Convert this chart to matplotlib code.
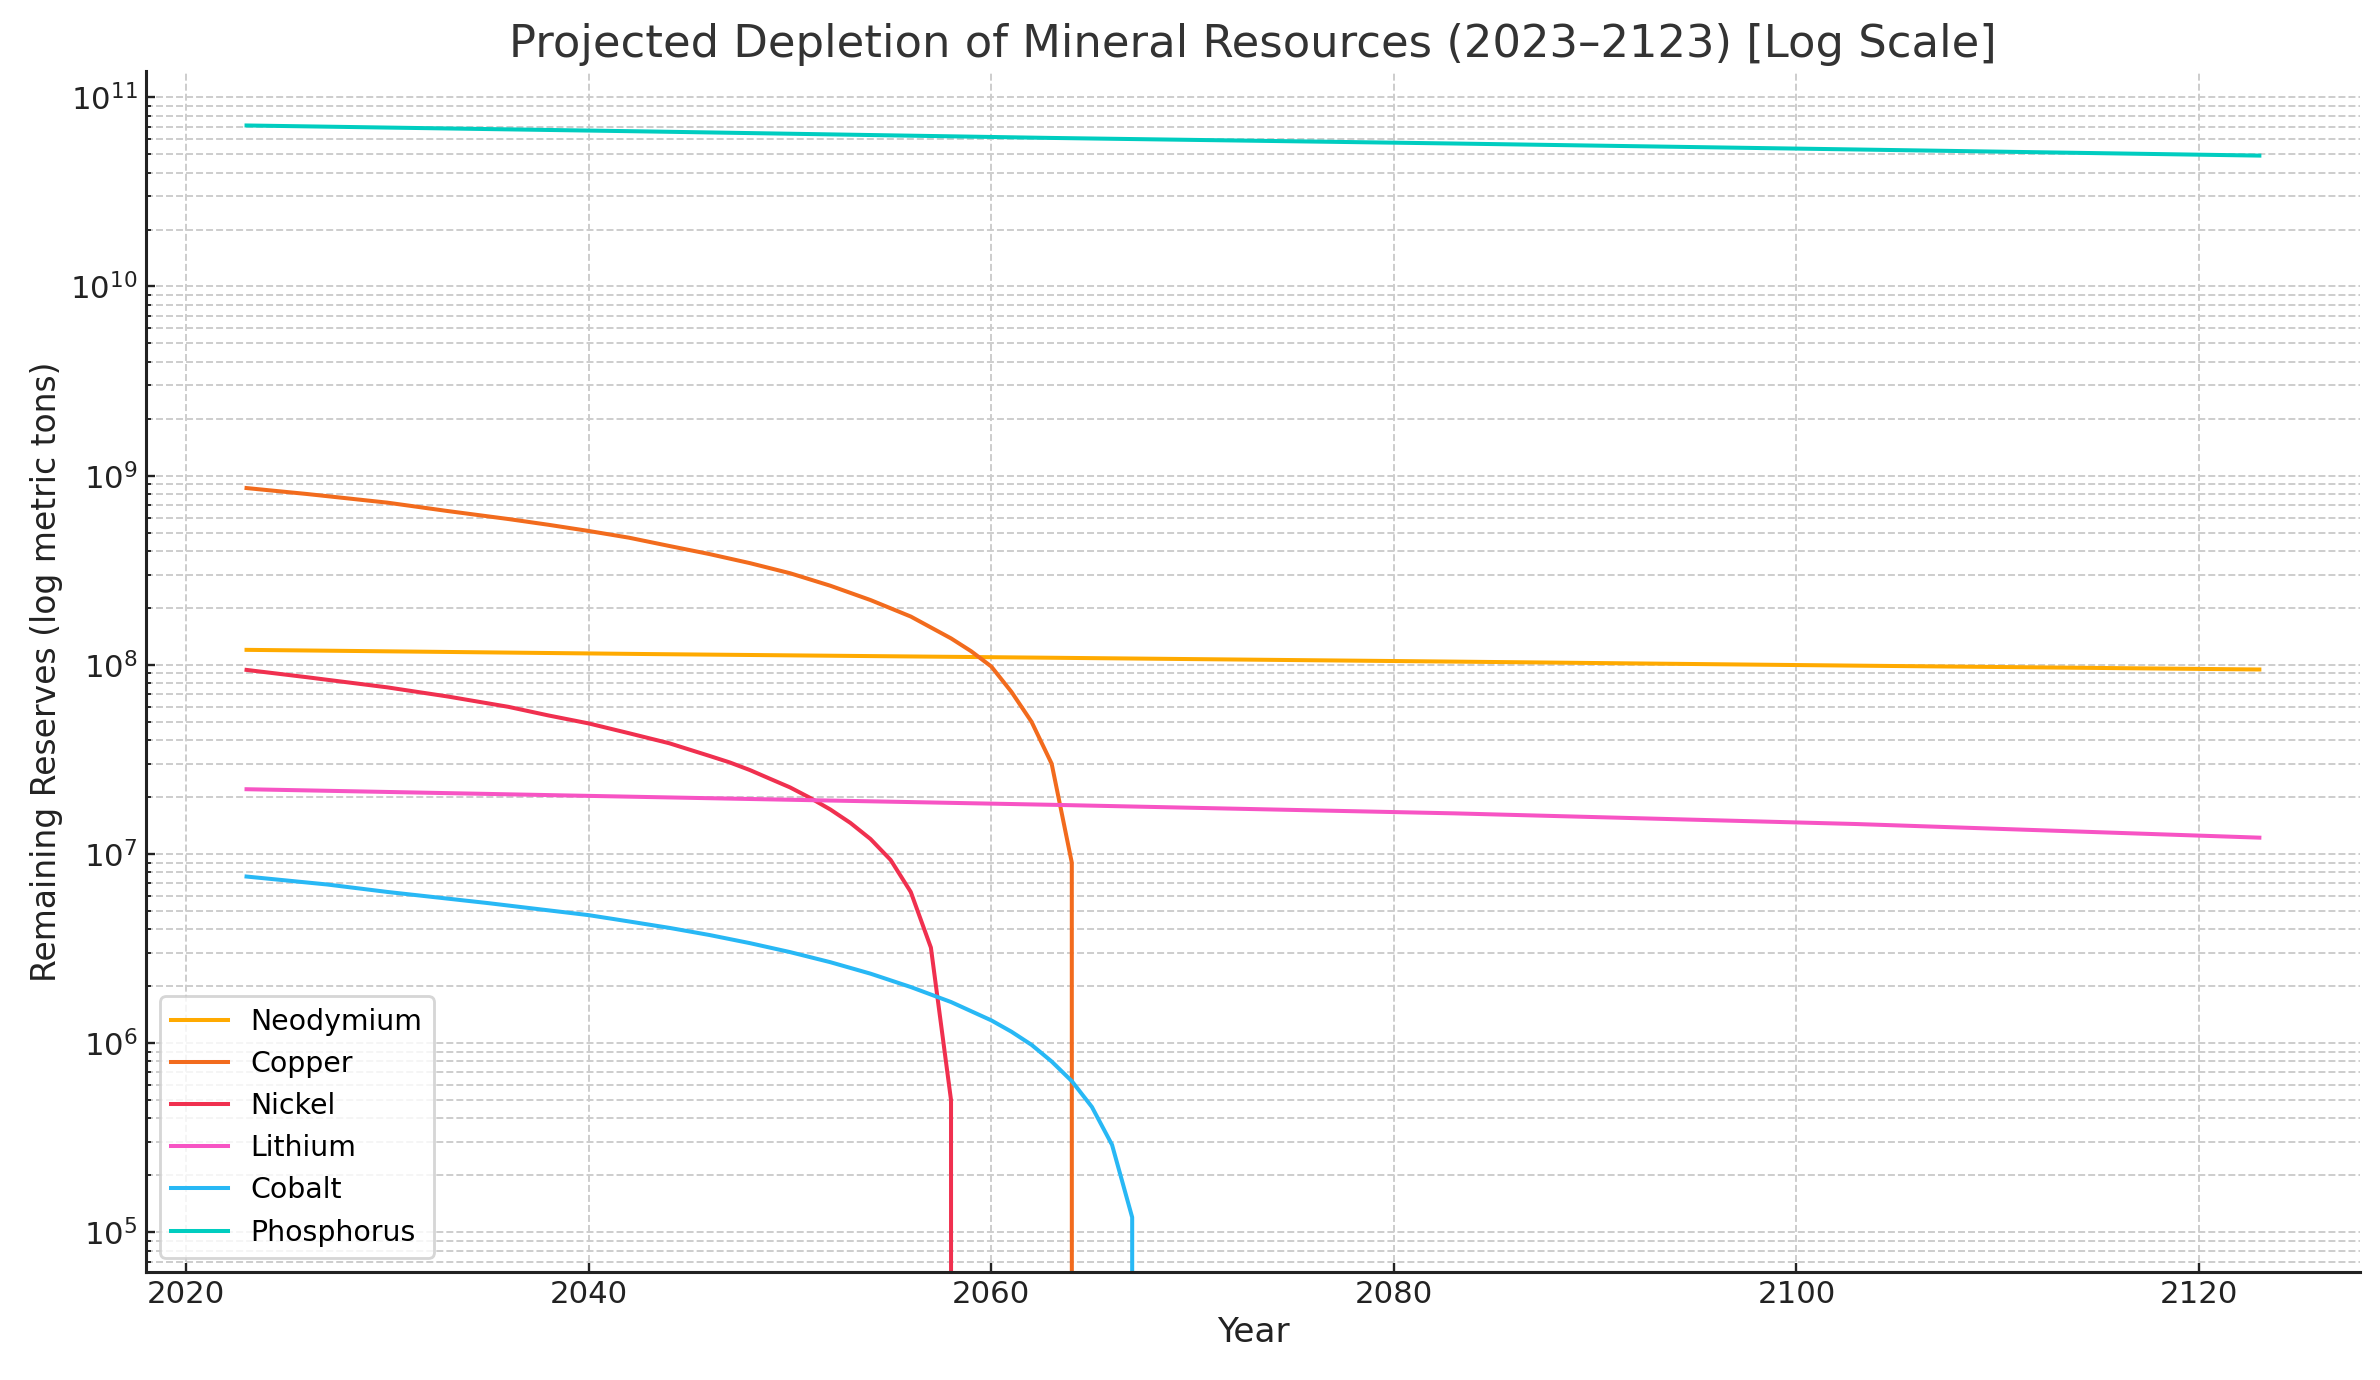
import matplotlib
matplotlib.use('Agg')
import matplotlib.pyplot as plt

# reserves (metric tons)
nd_years = [2023, 2043, 2063, 2083, 2103, 2123]
nd_vals = [1.20e8, 1.14e8, 1.09e8, 1.04e8, 9.9e7, 9.45e7]

cu_years = [2023, 2026, 2030, 2033, 2036, 2038, 2040, 2042, 2044, 2046, 2048, 2050, 2052, 2054,
            2056, 2058, 2059, 2060, 2061, 2062, 2063, 2064, 2065]
cu_vals = [8.6e8, 8.0e8, 7.2e8, 6.5e8, 5.9e8, 5.5e8, 5.1e8, 4.7e8, 4.25e8, 3.85e8, 3.45e8, 3.05e8, 2.62e8, 2.2e8,
           1.8e8, 1.38e8, 1.18e8, 9.8e7, 7.2e7, 5.0e7, 3.0e7, 9.0e6, 0]

ni_years = [2023, 2026, 2030, 2033, 2036, 2038, 2040, 2042, 2044, 2046, 2047, 2048, 2049, 2050,
            2051, 2052, 2053, 2054, 2055, 2056, 2057, 2058, 2059]
ni_vals = [9.4e7, 8.6e7, 7.6e7, 6.8e7, 6.0e7, 5.4e7, 4.9e7, 4.35e7, 3.85e7, 3.3e7, 3.05e7, 2.78e7, 2.5e7, 2.25e7,
           1.98e7, 1.72e7, 1.46e7, 1.2e7, 9.3e6, 6.3e6, 3.2e6, 5.0e5, 0]

li_years = [2023, 2043, 2063, 2083, 2103, 2123]
li_vals = [2.2e7, 2.0e7, 1.82e7, 1.64e7, 1.44e7, 1.22e7]

co_years = [2023, 2027, 2030, 2035, 2040, 2042, 2044, 2046, 2048, 2050, 2052, 2054, 2056, 2058,
            2060, 2061, 2062, 2063, 2064, 2065, 2066, 2067, 2068]
co_vals = [7.6e6, 6.9e6, 6.3e6, 5.5e6, 4.75e6, 4.4e6, 4.07e6, 3.73e6, 3.38e6, 3.03e6, 2.68e6, 2.33e6, 1.98e6, 1.65e6,
           1.32e6, 1.15e6, 9.8e5, 8.0e5, 6.3e5, 4.6e5, 2.9e5, 1.2e5, 0]

p_years = [2023, 2043, 2063, 2083, 2103, 2123]
p_vals = [7.1e10, 6.6e10, 6.1e10, 5.7e10, 5.3e10, 4.92e10]

series = [
  ('Neodymium', nd_years, nd_vals, '#FFAA00'),
  ('Copper', cu_years, cu_vals, '#F26B1D'),
  ('Nickel', ni_years, ni_vals, '#F0304F'),
  ('Lithium', li_years, li_vals, '#F754C4'),
  ('Cobalt', co_years, co_vals, '#28B8F5'),
  ('Phosphorus', p_years, p_vals, '#00CDC0'),
]

plt.rcParams['font.family'] = ['DejaVu Sans']

fig = plt.figure(figsize=(14, 8.118), dpi=170)
ax = fig.add_axes([0.0613, 0.0783, 0.9303, 0.8703])

for name, yrs, vals, c in series:
    ax.plot(yrs, vals, color=c, lw=1.7, label=name)

ax.set_yscale('log')

ax.set_title('Projected Depletion of Mineral Resources (2023–2123) [Log Scale]',
             fontsize=19, color='#333333', pad=6)
ax.set_xlabel('Year', fontsize=14.5, color='#222222', labelpad=3)
ax.set_ylabel('Remaining Reserves (log metric tons)', fontsize=14, color='#222222', labelpad=3)

ax.grid(True, which='major', axis='x', ls='--', color='#cccccc', lw=0.8)
ax.grid(True, which='both', axis='y', ls='--', color='#cccccc', lw=0.8)
ax.set_axisbelow(True)

for s in ['top', 'right']:
    ax.spines[s].set_visible(False)
for s in ['left', 'bottom']:
    ax.spines[s].set_color('#222222')
    ax.spines[s].set_linewidth(1.3)

ax.tick_params(which='major', direction='in', length=4, width=1, colors='#222222', labelsize=13)
ax.tick_params(which='minor', direction='in', length=2, width=0.8, colors='#222222')

leg = ax.legend(loc='lower left', fontsize=12)
leg.get_frame().set_edgecolor('#cccccc')
leg.get_frame().set_linewidth(1.2)

fig.savefig('out.png', dpi=170)
